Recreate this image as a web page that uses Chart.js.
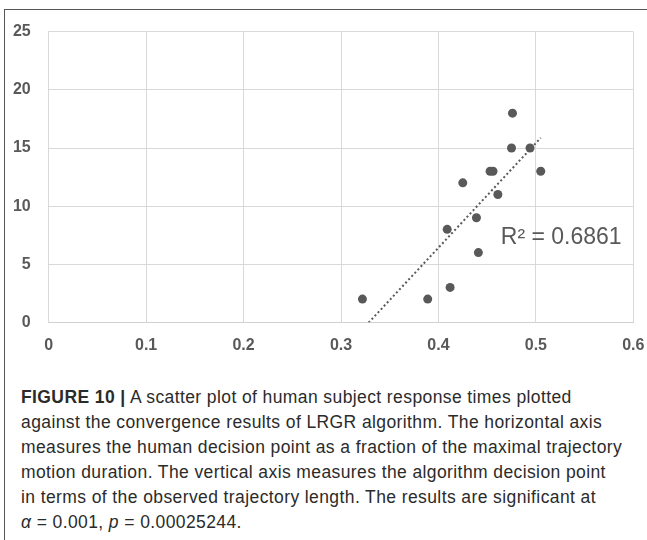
<!DOCTYPE html>
<html>
<head>
<meta charset="utf-8">
<script src="https://cdn.jsdelivr.net/npm/chart.js@4.4.1/dist/chart.umd.min.js"></script>
<style>
  body { margin: 0; background: #fff; }
  #wrap { position: relative; width: 647px; height: 540px; overflow: hidden; }
  #frame {
    position: absolute; left: 4px; top: 9px; right: 0; bottom: 0;
    border-top: 1px solid #555; border-left: 1px solid #555;
  }
  #chart { position: absolute; left: 0; top: 0; }
  #caption {
    position: absolute; left: 21px; top: 385px;
    font-family: "Liberation Sans", Arial, sans-serif;
    font-size: 17.5px; letter-spacing: 0.4px; line-height: 25px; color: #2b2b2b;
    white-space: nowrap;
  }
</style>
</head>
<body>
<div id="wrap">
  <div id="frame"></div>
  <canvas id="chart" width="647" height="370"></canvas>
  <div id="caption">
    <b>FIGURE 10 |</b> A scatter plot of human subject response times plotted<br>
    against the convergence results of LRGR algorithm. The horizontal axis<br>
    measures the human decision point as a fraction of the maximal trajectory<br>
    motion duration. The vertical axis measures the algorithm decision point<br>
    in terms of the observed trajectory length. The results are significant at<br>
    <i>α</i> = 0.001, <i>p</i> = 0.00025244.
  </div>
</div>
<script>
// human decision point (fraction of motion duration) vs algorithm decision point
const humanFraction = [0.322, 0.389, 0.412, 0.441, 0.409, 0.439, 0.461, 0.425, 0.453, 0.456, 0.505, 0.475, 0.494, 0.476];
const algoPoint     = [2, 2, 3, 6, 8, 9, 11, 12, 13, 13, 13, 15, 15, 18];
const xTicks = [0, 0.1, 0.2, 0.3, 0.4, 0.5, 0.6];
const yTicks = [0, 5, 10, 15, 20, 25];
const r2Label = 'R² = 0.6861';

const grey = '#595959';

const points = humanFraction.map((x, i) => ({ x: x, y: algoPoint[i] }));

// linear least-squares trendline over the points
const n = points.length;
const mx = humanFraction.reduce((a, b) => a + b, 0) / n;
const my = algoPoint.reduce((a, b) => a + b, 0) / n;
let sxy = 0, sxx = 0;
points.forEach(p => { sxy += (p.x - mx) * (p.y - my); sxx += (p.x - mx) * (p.x - mx); });
const slope = sxy / sxx;
const intercept = my - slope * mx;
const xMin = Math.min(...humanFraction);
const xMax = Math.max(...humanFraction);
const trend = [
  { x: xMin, y: intercept + slope * xMin },
  { x: xMax, y: intercept + slope * xMax }
];

// R² text drawn next to the trendline
const r2Plugin = {
  id: 'r2text',
  afterDatasetsDraw(chart) {
    const ctx = chart.ctx;
    const xs = chart.scales.x, ys = chart.scales.y;
    ctx.save();
    ctx.font = '23px "Liberation Sans", Arial, sans-serif';
    ctx.fillStyle = grey;
    ctx.textAlign = 'left';
    ctx.textBaseline = 'alphabetic';
    ctx.fillText(r2Label, xs.getPixelForValue(0.464), ys.getPixelForValue(6.7));
    ctx.restore();
  }
};

const tickFont = { family: '"Liberation Sans", Arial, sans-serif', size: 16, weight: 'bold' };

new Chart(document.getElementById('chart').getContext('2d'), {
  type: 'scatter',
  data: {
    datasets: [
      {
        data: points,
        backgroundColor: grey,
        borderWidth: 0,
        pointRadius: 4.5
      },
      {
        type: 'line',
        data: trend,
        borderColor: grey,
        borderWidth: 2,
        borderDash: [2, 2.5],
        pointRadius: 0,
        fill: false
      }
    ]
  },
  options: {
    responsive: false,
    animation: false,
    layout: { padding: { left: 0, right: 13.7, top: 31.8, bottom: 0 } },
    plugins: { legend: { display: false }, tooltip: { enabled: false } },
    scales: {
      x: {
        type: 'linear',
        min: xTicks[0],
        max: xTicks[xTicks.length - 1],
        afterBuildTicks: s => { s.ticks = xTicks.map(v => ({ value: v })); },
        afterFit: s => { s.height = 47.7; s.paddingLeft = 0; s.paddingRight = 0; },
        grid: { color: '#d9d9d9', drawTicks: false },
        border: { color: '#cfcfcf' },
        ticks: { color: grey, font: tickFont, padding: 14, maxRotation: 0 }
      },
      y: {
        type: 'linear',
        min: yTicks[0],
        max: yTicks[yTicks.length - 1],
        afterBuildTicks: s => { s.ticks = yTicks.map(v => ({ value: v })); },
        afterFit: s => { s.width = 48.7; s.paddingTop = 0; s.paddingBottom = 0; },
        grid: { color: '#d9d9d9', drawTicks: false },
        border: { color: '#d9d9d9' },
        ticks: { color: grey, font: tickFont, padding: 18 }
      }
    }
  },
  plugins: [r2Plugin]
});
</script>
</body>
</html>
